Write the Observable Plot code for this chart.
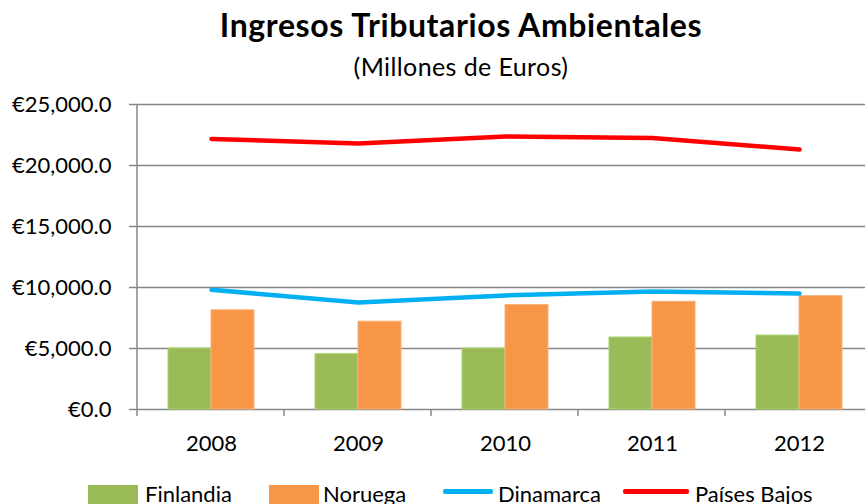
<!DOCTYPE html>
<html><head><meta charset="utf-8">
<script src="https://cdn.jsdelivr.net/npm/d3@7"></script>
<script src="https://cdn.jsdelivr.net/npm/@observablehq/plot@0.6"></script>
<style>
html,body{margin:0;padding:0;width:865px;height:504px;overflow:hidden;background:#fff;font-family:Lato,sans-serif;color:#000;}
#title{position:absolute;left:0;width:922px;top:6px;text-align:center;font-weight:bold;font-size:32px;letter-spacing:0.6px;line-height:38px;white-space:nowrap;}
#subtitle{position:absolute;left:0;width:922px;top:51px;text-align:center;font-size:25px;letter-spacing:0.4px;line-height:30px;white-space:nowrap;}
#chart{position:absolute;left:0;top:85px;width:880px;}
#chart svg{max-width:none !important;}
.sw{position:absolute;}
.lt{position:absolute;font-size:22px;line-height:24px;top:482px;white-space:nowrap;}
</style></head><body>
<div id="title">Ingresos Tributarios Ambientales</div>
<div id="subtitle">(Millones de Euros)</div>
<div id="chart"></div>
<div id="legend"></div>
<script>
const years = ["2008", "2009", "2010", "2011", "2012"];
const seriesNames = ["Finlandia", "Noruega", "Dinamarca", "Países Bajos"];
const finlandia = [5000, 4540, 5000, 5900, 6060];
const noruega = [8130, 7200, 8560, 8830, 9290];
const dinamarca = [9810, 8780, 9350, 9670, 9510];
const paisesBajos = [22180, 21800, 22380, 22260, 21310];
const yTicks = [0, 5000, 10000, 15000, 20000, 25000];
const colors = ["#9BBB59", "#F79646", "#00B0F0", "#FF0000"];

const table = years.map((year, i) => ({year, fin: finlandia[i], nor: noruega[i], din: dinamarca[i], pb: paisesBajos[i]}));
const gridColor = "#878787";

const axisFrame = (index, scales, values, dims) => {
  const g = d3.create("svg:g").attr("stroke", gridColor).attr("stroke-width", 1.5);
  const x0 = dims.marginLeft, x1 = dims.width - dims.marginRight;
  const yb = scales.y(0), yt = scales.y(25000);
  g.append("line").attr("x1", x0).attr("x2", x0).attr("y1", yt).attr("y2", yb + 7);
  const step = (x1 - x0) / years.length;
  years.forEach((_, i) => {
    const xx = x0 + (i + 1) * step;
    g.append("line").attr("x1", xx).attr("x2", xx).attr("y1", yb).attr("y2", yb + 7);
  });
  return g.node();
};

const plot = Plot.plot({
  width: 880, height: 384,
  marginLeft: 137, marginRight: 8, marginTop: 19, marginBottom: 60,
  style: {fontFamily: "Lato, sans-serif", fontSize: "22px", color: "#000", background: "transparent", overflow: "visible", maxWidth: "none"},
  x: {type: "band", domain: years, paddingInner: 0.415, paddingOuter: 0.2075, axis: null, label: null},
  y: {domain: [0, 25000], axis: null, label: null},
  marks: [
    Plot.ruleY(yTicks, {stroke: gridColor, strokeWidth: 1.5}),
    Plot.barY(table, {x: "year", y: "fin", fill: colors[0], stroke: "#A8D46A", strokeWidth: 1, insetRight: 43}),
    Plot.barY(table, {x: "year", y: "nor", fill: colors[1], stroke: "#FBB07A", strokeWidth: 1, insetLeft: 43}),
    Plot.lineY(table, {x: "year", y: "din", stroke: colors[2], strokeWidth: 4.5, strokeLinecap: "round", strokeLinejoin: "round"}),
    Plot.lineY(table, {x: "year", y: "pb", stroke: colors[3], strokeWidth: 4.5, strokeLinecap: "round", strokeLinejoin: "round"}),
    axisFrame,
    Plot.axisY(yTicks, {tickFormat: d => "€" + d3.format(",.1f")(d), tickSize: 8, tickPadding: 18, stroke: gridColor, strokeWidth: 1.5, fontSize: 22, label: null}),
    Plot.axisX({tickSize: 0, tickPadding: 26, fontSize: 22, label: null})
  ]
});
plot.style.maxWidth = "none";
document.getElementById("chart").appendChild(plot);

const legend = document.getElementById("legend");
const lg = [
  {kind: "rect", sx: 88, sw: 50, tx: 145},
  {kind: "rect", sx: 269, sw: 50, tx: 323},
  {kind: "line", sx: 443, sw: 50, tx: 498},
  {kind: "line", sx: 623, sw: 66, tx: 695}
];
seriesNames.forEach((name, i) => {
  const s = document.createElement("div");
  s.className = "sw";
  s.style.left = lg[i].sx + "px";
  s.style.width = lg[i].sw + "px";
  s.style.background = colors[i];
  if (lg[i].kind === "rect") { s.style.top = "485px"; s.style.height = "20px"; }
  else { s.style.top = "489px"; s.style.height = "4.5px"; s.style.borderRadius = "2px"; }
  legend.appendChild(s);
  const t = document.createElement("div");
  t.className = "lt";
  t.style.left = lg[i].tx + "px";
  t.textContent = name;
  legend.appendChild(t);
});
</script>
</body></html>
